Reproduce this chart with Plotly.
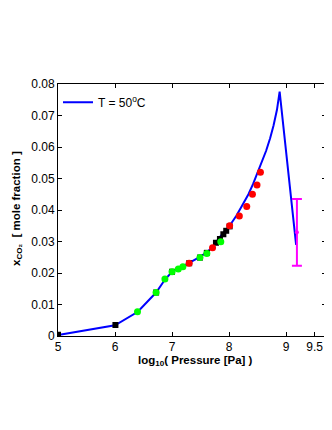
import plotly.graph_objects as go

# Model curve (T = 50 C)
curve_x = [5.0, 6.0, 6.4, 6.72, 6.88, 7.0, 7.1, 7.19, 7.3, 7.49, 7.61, 7.71, 7.84,
           8.01, 8.125, 8.225, 8.34, 8.42, 8.50, 8.58, 8.65, 8.72, 8.78, 8.84,
           8.887, 9.176]
curve_y = [0.0003, 0.0034, 0.0077, 0.0138, 0.018, 0.0204, 0.0213, 0.0221, 0.0232,
           0.0251, 0.0266, 0.0282, 0.0315, 0.0350, 0.0381, 0.0413, 0.0450, 0.0482,
           0.0518, 0.0553, 0.0588, 0.0628, 0.0668, 0.0718, 0.0776, 0.0289]

# Black squares
black_x = [5.0, 6.007, 6.72, 7.0, 7.3, 7.49, 7.61, 7.77, 7.84, 7.90, 7.95, 8.01]
black_y = [0.0004, 0.0035, 0.0138, 0.0204, 0.0231, 0.0249, 0.0264, 0.0296, 0.0308,
           0.0323, 0.0334, 0.0348]

# Green dots
green_x = [6.394, 6.72, 6.875, 7.0, 7.11, 7.19, 7.49, 7.61, 7.855]
green_y = [0.0077, 0.0138, 0.0181, 0.0204, 0.0213, 0.0220, 0.0249, 0.0262, 0.0299]

# Red dots
red_x = [7.30, 7.71, 8.01, 8.18, 8.31, 8.41, 8.49, 8.55]
red_y = [0.0231, 0.0280, 0.0350, 0.0381, 0.0411, 0.0450, 0.0479, 0.0520]

# Magenta point with error bar
mag_x = [9.19]
mag_y = [0.0329]
mag_err_plus = [0.0106]
mag_err_minus = [0.0106]

x_ticks = [5, 6, 7, 8, 9, 9.5]
y_ticks = [0, 0.01, 0.02, 0.03, 0.04, 0.05, 0.06, 0.07, 0.08]

fig = go.Figure()
fig.add_trace(go.Scatter(x=curve_x, y=curve_y, mode="lines",
                         line=dict(color="#0000FF", width=2),
                         name="T = 50<sup>o</sup>C", showlegend=True))
fig.add_trace(go.Scatter(x=black_x, y=black_y, mode="markers",
                         marker=dict(symbol="square", color="black", size=6),
                         showlegend=False))
fig.add_trace(go.Scatter(x=green_x, y=green_y, mode="markers",
                         marker=dict(symbol="circle", color="#00FF00", size=7),
                         showlegend=False))
fig.add_trace(go.Scatter(x=red_x, y=red_y, mode="markers",
                         marker=dict(symbol="circle", color="#FF0000", size=7),
                         showlegend=False))
fig.add_trace(go.Scatter(x=mag_x, y=mag_y, mode="markers",
                         marker=dict(symbol="circle", color="#FF00FF", size=4),
                         error_y=dict(type="data", symmetric=False,
                                      array=mag_err_plus, arrayminus=mag_err_minus,
                                      color="#FF00FF", thickness=2, width=5),
                         showlegend=False))

# Page body has an 8px default margin; size the figure to fit the window.
fig.update_layout(
    width=324, height=422,
    margin=dict(l=50, r=6, t=76, b=94),
    paper_bgcolor="white", plot_bgcolor="white",
    font=dict(family="Liberation Sans, Arial, sans-serif", size=12, color="black"),
    showlegend=True,
    legend=dict(x=0.0, y=0.985, xanchor="left", yanchor="top",
                bgcolor="rgba(0,0,0,0)", borderwidth=0,
                font=dict(size=12), itemwidth=30),
    annotations=[
        dict(text="<b>log<sub>10</sub>( Pressure [Pa] )</b>", xref="paper", yref="paper",
             x=0.5, y=0, xanchor="center", yanchor="top", xshift=3, yshift=-17,
             showarrow=False, font=dict(size=11.5), borderpad=0),
        dict(text="<b>x<sub>CO₂</sub>  [ mole fraction ]</b>", xref="paper", yref="paper",
             x=0, y=0.5, xanchor="center", yanchor="middle", xshift=-41, yshift=1,
             textangle=-90, showarrow=False, font=dict(size=11.5)),
    ],
)
fig.update_xaxes(range=[5, 9.7], tickvals=x_ticks, ticktext=[str(t) for t in x_ticks],
                 showline=True, linecolor="black", linewidth=1, mirror="ticks",
                 ticks="inside", ticklen=4, tickcolor="black", showgrid=False,
                 zeroline=False, automargin=False, tickfont=dict(size=12))
fig.update_yaxes(range=[0, 0.08], tickvals=y_ticks,
                 ticktext=["0"] + ["%.2f" % t for t in y_ticks[1:]],
                 showline=True, linecolor="black", linewidth=1, mirror="ticks",
                 ticks="inside", ticklen=4, tickcolor="black", showgrid=False,
                 zeroline=False, automargin=False, tickfont=dict(size=12))

fig.write_html("out.html")
